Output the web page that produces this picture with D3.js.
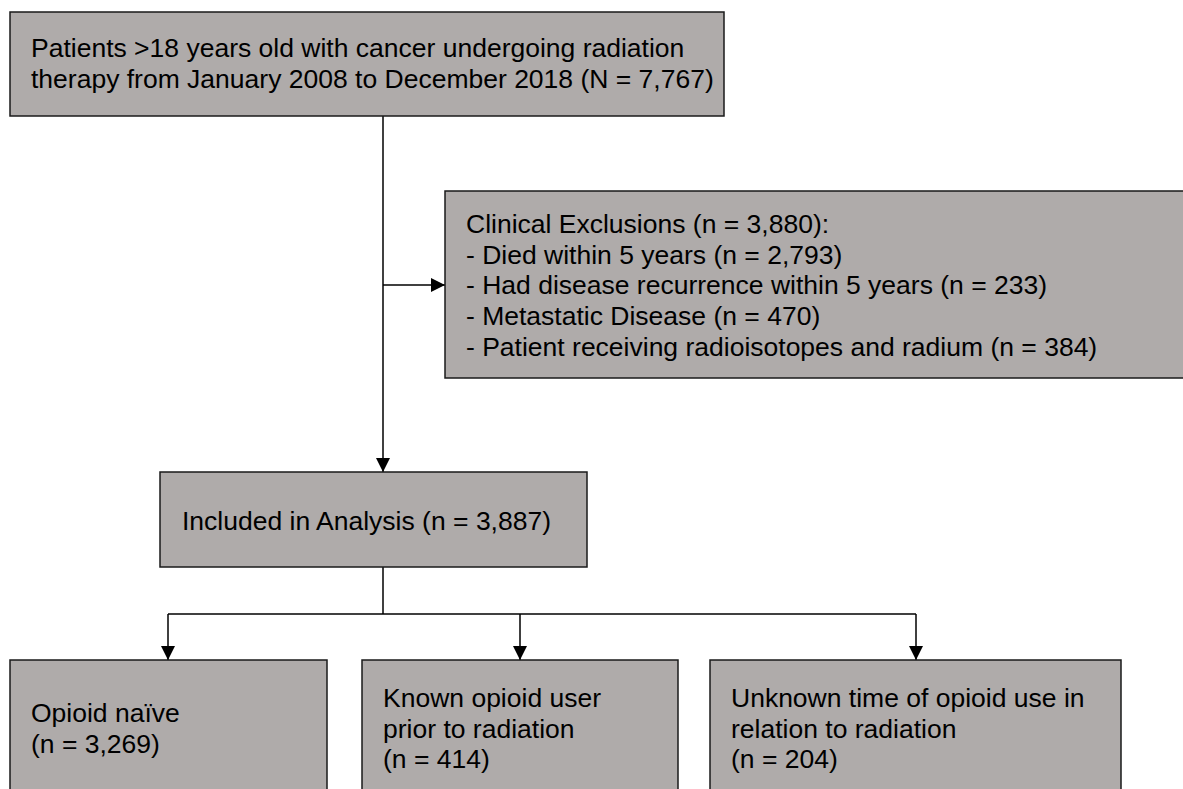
<!DOCTYPE html>
<html>
<head>
<meta charset="utf-8">
<script src="https://cdn.jsdelivr.net/npm/d3@7"></script>
<style>
  html, body { margin: 0; padding: 0; background: #ffffff; }
  svg { display: block; }
</style>
</head>
<body>
<svg id="chart" width="1183" height="789"></svg>
<script>
// ---------- DATA ----------
const totalCount = 7767;
const exclusionTotal = 3880;
const exclusionLabels = ["Died within 5 years", "Had disease recurrence within 5 years", "Metastatic Disease", "Patient receiving radioisotopes and radium"];
const exclusionCounts = [2793, 233, 470, 384];
const includedCount = 3887;
const groupLabels = [["Opioid naïve"], ["Known opioid user", "prior to radiation"], ["Unknown time of opioid use in", "relation to radiation"]];
const groupCounts = [3269, 414, 204];

// ---------- LAYOUT (positions/styles) ----------
const fmt = d3.format(",");
const FILL = "#afabaa", STROKE = "#1a1a1a", FONT = "Liberation Sans, Arial, sans-serif", FS = 26.5, LH = 30.7;

const nodes = [
  { id: "top", x: 10, y: 12, w: 714, h: 104, tx: 31, ty: 57,
    lines: ["Patients >18 years old with cancer undergoing radiation",
            "therapy from January 2008 to December 2018 (N = " + fmt(totalCount) + ")"] },
  { id: "excl", x: 445, y: 191, w: 760, h: 187, tx: 466, ty: 233,
    lines: ["Clinical Exclusions (n = " + fmt(exclusionTotal) + "):"]
      .concat(exclusionLabels.map((l, i) => "- " + l + " (n = " + fmt(exclusionCounts[i]) + ")")) },
  { id: "incl", x: 160, y: 472, w: 427, h: 95, tx: 182, ty: 530,
    lines: ["Included in Analysis (n = " + fmt(includedCount) + ")"] },
  { id: "g0", x: 10, y: 660, w: 317, h: 160, tx: 31, ty: 722,
    lines: groupLabels[0].concat(["(n = " + fmt(groupCounts[0]) + ")"]) },
  { id: "g1", x: 362, y: 660, w: 316, h: 160, tx: 383, ty: 707,
    lines: groupLabels[1].concat(["(n = " + fmt(groupCounts[1]) + ")"]) },
  { id: "g2", x: 710, y: 660, w: 411, h: 160, tx: 731, ty: 707,
    lines: groupLabels[2].concat(["(n = " + fmt(groupCounts[2]) + ")"]) }
];

const svg = d3.select("#chart");

// arrow marker
const defs = svg.append("defs");
defs.append("marker")
  .attr("id", "arrow")
  .attr("viewBox", "0 0 10 10")
  .attr("refX", 10).attr("refY", 5)
  .attr("markerUnits", "userSpaceOnUse")
  .attr("markerWidth", 15).attr("markerHeight", 14)
  .attr("orient", "auto")
  .append("path").attr("d", "M0,0 L10,5 L0,10 Z").attr("fill", "#000");

// connectors
const spineX = 383, branchY = 614;
const connectors = [
  { pts: [[spineX, 116], [spineX, 472]], arrow: true },
  { pts: [[spineX, 285], [445, 285]], arrow: true },
  { pts: [[spineX, 567], [spineX, branchY]], arrow: false },
  { pts: [[168, branchY], [916, branchY]], arrow: false },
  { pts: [[168, branchY], [168, 660]], arrow: true },
  { pts: [[520, branchY], [520, 660]], arrow: true },
  { pts: [[916, branchY], [916, 660]], arrow: true }
];
const line = d3.line();
svg.append("g").selectAll("path").data(connectors).join("path")
  .attr("d", d => line(d.pts))
  .attr("fill", "none").attr("stroke", "#000").attr("stroke-width", 1.5)
  .attr("marker-end", d => d.arrow ? "url(#arrow)" : null);

// boxes
const g = svg.append("g").selectAll("g").data(nodes).join("g");
g.append("rect")
  .attr("x", d => d.x).attr("y", d => d.y)
  .attr("width", d => d.w).attr("height", d => d.h)
  .attr("fill", FILL).attr("stroke", STROKE).attr("stroke-width", 1.5);
g.append("text")
  .attr("font-family", FONT).attr("font-size", FS).attr("fill", "#000")
  .selectAll("tspan").data(d => d.lines.map((t, i) => ({ t, x: d.tx, y: d.ty + i * LH }))).join("tspan")
  .attr("x", d => d.x).attr("y", d => d.y).text(d => d.t);
</script>
</body>
</html>
